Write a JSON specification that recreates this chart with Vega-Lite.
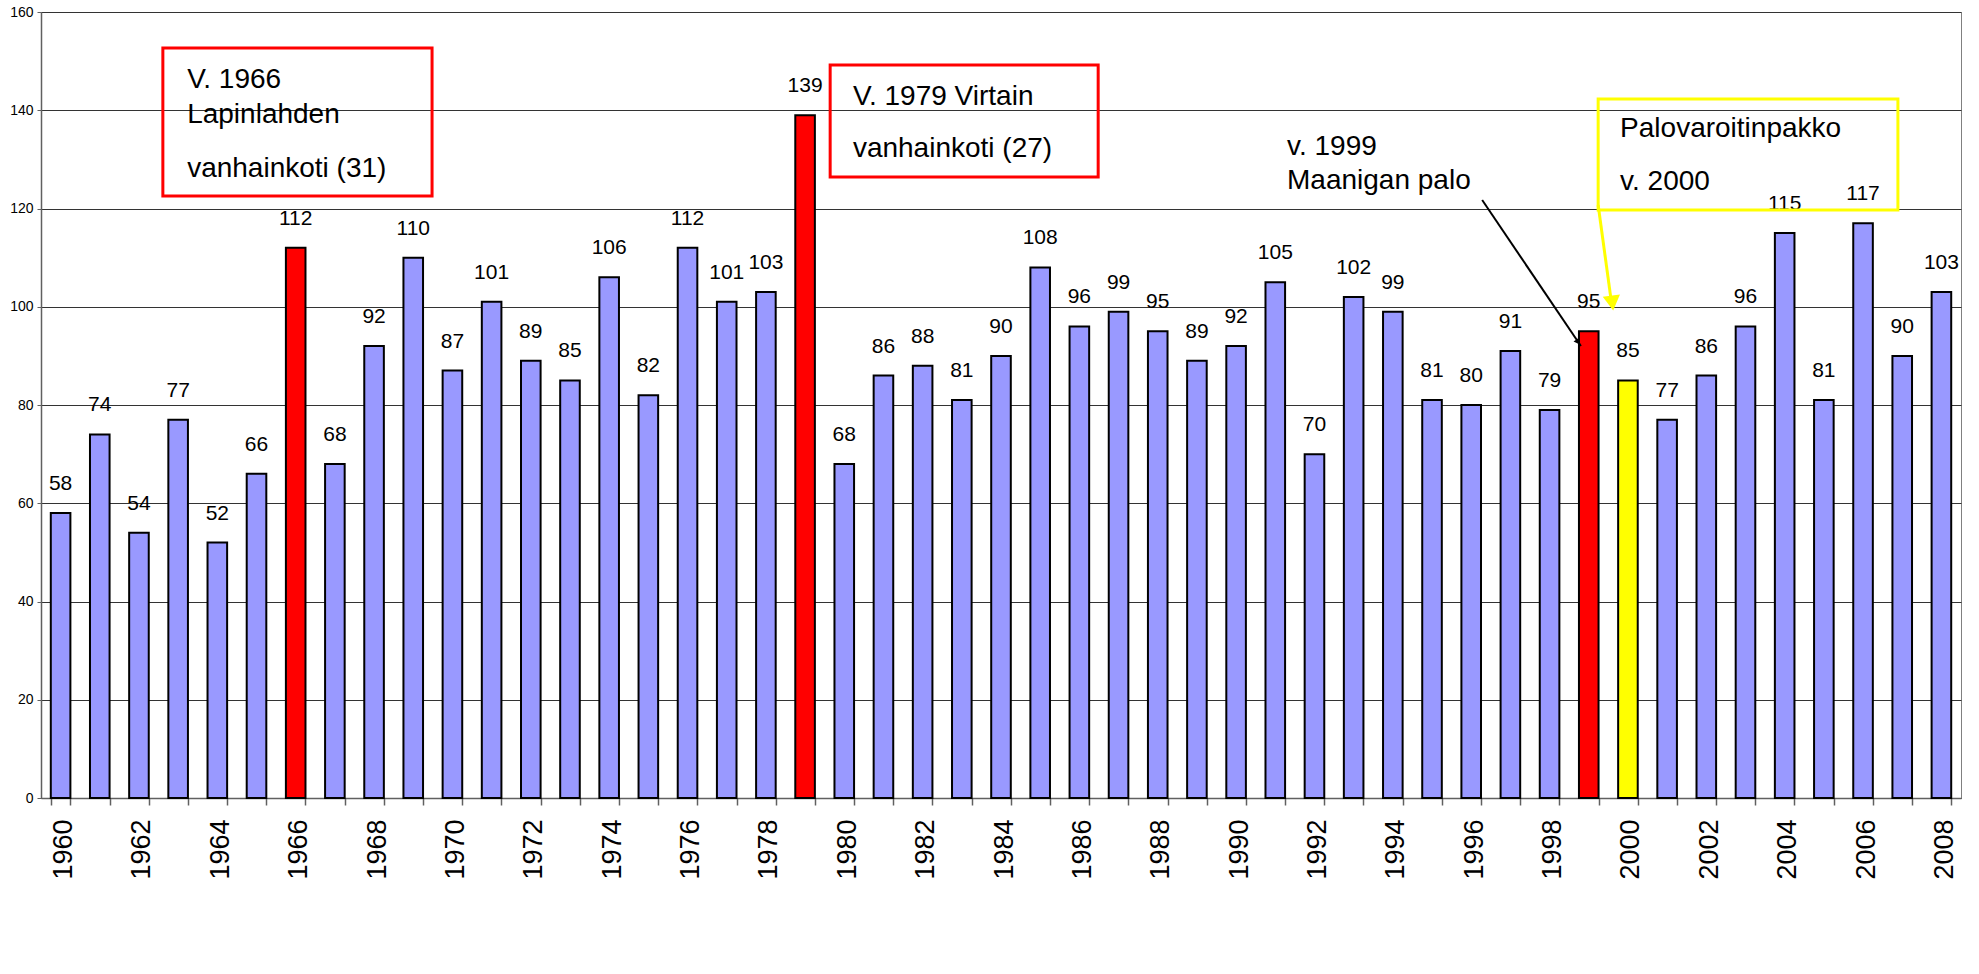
{
  "$schema": "https://vega.github.io/schema/vega-lite/v6.json",
  "width": 1920,
  "height": 786,
  "autosize": "none",
  "padding": {"left": 41, "top": 12, "right": 18, "bottom": 176},
  "background": "white",
  "config": {
    "view": {"stroke": "#808080", "strokeWidth": 1},
    "font": "Liberation Sans"
  },
  "datasets": {
    "fires": [
      {"year": 1960, "count": 58, "kind": "normal"},
      {"year": 1961, "count": 74, "kind": "normal"},
      {"year": 1962, "count": 54, "kind": "normal"},
      {"year": 1963, "count": 77, "kind": "normal"},
      {"year": 1964, "count": 52, "kind": "normal"},
      {"year": 1965, "count": 66, "kind": "normal"},
      {"year": 1966, "count": 112, "kind": "fire"},
      {"year": 1967, "count": 68, "kind": "normal"},
      {"year": 1968, "count": 92, "kind": "normal"},
      {"year": 1969, "count": 110, "kind": "normal"},
      {"year": 1970, "count": 87, "kind": "normal"},
      {"year": 1971, "count": 101, "kind": "normal"},
      {"year": 1972, "count": 89, "kind": "normal"},
      {"year": 1973, "count": 85, "kind": "normal"},
      {"year": 1974, "count": 106, "kind": "normal"},
      {"year": 1975, "count": 82, "kind": "normal"},
      {"year": 1976, "count": 112, "kind": "normal"},
      {"year": 1977, "count": 101, "kind": "normal"},
      {"year": 1978, "count": 103, "kind": "normal"},
      {"year": 1979, "count": 139, "kind": "fire"},
      {"year": 1980, "count": 68, "kind": "normal"},
      {"year": 1981, "count": 86, "kind": "normal"},
      {"year": 1982, "count": 88, "kind": "normal"},
      {"year": 1983, "count": 81, "kind": "normal"},
      {"year": 1984, "count": 90, "kind": "normal"},
      {"year": 1985, "count": 108, "kind": "normal"},
      {"year": 1986, "count": 96, "kind": "normal"},
      {"year": 1987, "count": 99, "kind": "normal"},
      {"year": 1988, "count": 95, "kind": "normal"},
      {"year": 1989, "count": 89, "kind": "normal"},
      {"year": 1990, "count": 92, "kind": "normal"},
      {"year": 1991, "count": 105, "kind": "normal"},
      {"year": 1992, "count": 70, "kind": "normal"},
      {"year": 1993, "count": 102, "kind": "normal"},
      {"year": 1994, "count": 99, "kind": "normal"},
      {"year": 1995, "count": 81, "kind": "normal"},
      {"year": 1996, "count": 80, "kind": "normal"},
      {"year": 1997, "count": 91, "kind": "normal"},
      {"year": 1998, "count": 79, "kind": "normal"},
      {"year": 1999, "count": 95, "kind": "fire"},
      {"year": 2000, "count": 85, "kind": "alarm"},
      {"year": 2001, "count": 77, "kind": "normal"},
      {"year": 2002, "count": 86, "kind": "normal"},
      {"year": 2003, "count": 96, "kind": "normal"},
      {"year": 2004, "count": 115, "kind": "normal"},
      {"year": 2005, "count": 81, "kind": "normal"},
      {"year": 2006, "count": 117, "kind": "normal"},
      {"year": 2007, "count": 90, "kind": "normal"},
      {"year": 2008, "count": 103, "kind": "normal"}
    ],
    "boxes": [
      {"x1": 1962.61, "x2": 1969.48, "y1": 152.67, "y2": 122.54, "kind": "fire"},
      {"x1": 1979.64, "x2": 1986.48, "y1": 149.21, "y2": 126.41, "kind": "fire"},
      {"x1": 1999.24, "x2": 2006.89, "y1": 142.29, "y2": 119.69, "kind": "alarm"}
    ],
    "notes": [
      {"x": 1963.23, "y": 144.53, "label": "V. 1966"},
      {"x": 1963.23, "y": 137.4, "label": "Lapinlahden"},
      {"x": 1963.23, "y": 126.41, "label": "vanhainkoti (31)"},
      {"x": 1980.22, "y": 141.07, "label": "V. 1979 Virtain"},
      {"x": 1980.22, "y": 130.48, "label": "vanhainkoti (27)"},
      {"x": 1991.3, "y": 130.89, "label": "v. 1999"},
      {"x": 1991.3, "y": 123.97, "label": "Maanigan palo"},
      {"x": 1999.8, "y": 134.55, "label": "Palovaroitinpakko"},
      {"x": 1999.8, "y": 123.77, "label": "v. 2000"}
    ]
  },
  "layer": [
    {
      "data": {"name": "fires"},
      "encoding": {
        "x": {
          "field": "year",
          "type": "ordinal",
          "scale": {"paddingInner": 0.5, "paddingOuter": 0.25},
          "axis": {
            "title": null,
            "tickBand": "extent",
            "labelAngle": 270,
            "labelFontSize": 27,
            "labelFont": "Liberation Sans",
            "labelColor": "black",
            "labelExpr": "datum.value % 2 == 0 ? datum.label : ''",
            "labelOverlap": false,
            "labelPadding": 14,
            "labelOffset": 3,
            "labelLimit": 400,
            "tickSize": 7,
            "tickColor": "#606060",
            "tickWidth": 1.5,
            "domainColor": "#606060",
            "domainWidth": 1.5
          }
        },
        "y": {
          "field": "count",
          "type": "quantitative",
          "scale": {"domain": [0, 160], "nice": false},
          "axis": {
            "title": null,
            "values": [0, 20, 40, 60, 80, 100, 120, 140, 160],
            "grid": true,
            "gridColor": "#333333",
            "gridWidth": 1,
            "domainColor": "#606060",
            "domainWidth": 1.5,
            "tickColor": "#606060",
            "tickSize": 4,
            "labelFontSize": 14,
            "labelPadding": 4,
            "labelColor": "black",
            "labelFont": "Liberation Sans"
          }
        }
      },
      "layer": [
        {
          "mark": {"type": "bar", "stroke": "black", "strokeWidth": 2},
          "encoding": {
            "color": {
              "field": "kind",
              "type": "nominal",
              "scale": {"domain": ["normal", "fire", "alarm"], "range": ["#9999FF", "#FF0000", "#FFFF00"]},
              "legend": null
            }
          }
        },
        {
          "mark": {"type": "text", "baseline": "alphabetic", "dy": -23, "fontSize": 21, "color": "black", "font": "Liberation Sans"},
          "encoding": {"text": {"field": "count", "type": "quantitative"}}
        }
      ]
    },
    {
      "data": {"name": "boxes"},
      "mark": {"type": "rect", "fill": null, "strokeWidth": 3},
      "encoding": {
        "x": {"field": "x1", "type": "quantitative", "scale": {"domain": [1959.5, 2008.5], "nice": false, "zero": false}, "axis": null},
        "x2": {"field": "x2"},
        "y": {"field": "y1", "type": "quantitative", "scale": {"domain": [0, 160], "nice": false}},
        "y2": {"field": "y2"},
        "stroke": {
          "field": "kind",
          "type": "nominal",
          "scale": {"domain": ["fire", "alarm"], "range": ["#FF0000", "#FFFF00"]},
          "legend": null
        }
      }
    },
    {
      "data": {"name": "notes"},
      "mark": {"type": "text", "align": "left", "baseline": "alphabetic", "fontSize": 28, "color": "black", "font": "Liberation Sans"},
      "encoding": {
        "x": {"field": "x", "type": "quantitative", "scale": {"domain": [1959.5, 2008.5], "nice": false, "zero": false}, "axis": null},
        "y": {"field": "y", "type": "quantitative", "scale": {"domain": [0, 160], "nice": false}},
        "text": {"field": "label", "type": "nominal"}
      }
    },
    {
      "data": {"values": [{"x1": 1996.28, "y1": 121.73, "x2": 1998.8, "y2": 92.0}]},
      "mark": {"type": "rule", "color": "black", "strokeWidth": 2},
      "encoding": {
        "x": {"field": "x1", "type": "quantitative", "scale": {"domain": [1959.5, 2008.5], "nice": false, "zero": false}, "axis": null},
        "y": {"field": "y1", "type": "quantitative", "scale": {"domain": [0, 160], "nice": false}},
        "x2": {"field": "x2"},
        "y2": {"field": "y2"}
      }
    },
    {
      "data": {"values": [{"x1": 1999.24, "y1": 120.71, "x2": 1999.57, "y2": 101.4}]},
      "mark": {"type": "rule", "color": "#FFFF00", "strokeWidth": 3},
      "encoding": {
        "x": {"field": "x1", "type": "quantitative", "scale": {"domain": [1959.5, 2008.5], "nice": false, "zero": false}, "axis": null},
        "y": {"field": "y1", "type": "quantitative", "scale": {"domain": [0, 160], "nice": false}},
        "x2": {"field": "x2"},
        "y2": {"field": "y2"}
      }
    },
    {
      "data": {"values": [{"x": 1999.6, "y": 100.76}]},
      "mark": {"type": "point", "shape": "triangle-down", "size": 300, "filled": true, "color": "#FFFF00", "opacity": 1, "angle": 353},
      "encoding": {
        "x": {"field": "x", "type": "quantitative", "scale": {"domain": [1959.5, 2008.5], "nice": false, "zero": false}, "axis": null},
        "y": {"field": "y", "type": "quantitative", "scale": {"domain": [0, 160], "nice": false}}
      }
    },
    {
      "data": {"values": [{"x": 1998.73, "y": 92.82}]},
      "mark": {"type": "point", "shape": "triangle-down", "size": 50, "filled": true, "color": "black", "opacity": 1, "angle": 326},
      "encoding": {
        "x": {"field": "x", "type": "quantitative", "scale": {"domain": [1959.5, 2008.5], "nice": false, "zero": false}, "axis": null},
        "y": {"field": "y", "type": "quantitative", "scale": {"domain": [0, 160], "nice": false}}
      }
    }
  ],
  "resolve": {"scale": {"x": "independent", "color": "independent"}}
}
